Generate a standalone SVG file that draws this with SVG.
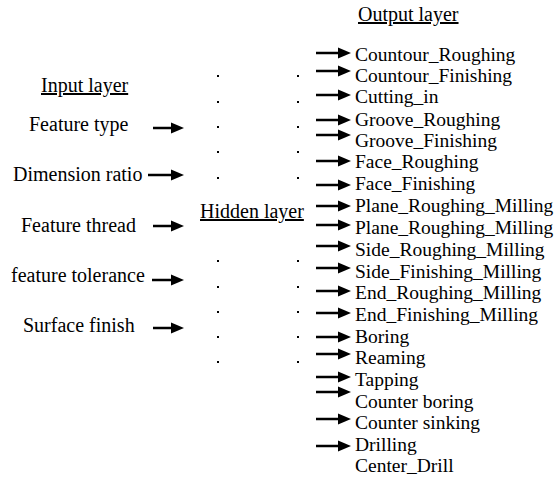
<svg xmlns="http://www.w3.org/2000/svg" width="556" height="477" viewBox="0 0 556 477">
<style>
text{font-family:'Liberation Serif','Times New Roman',serif;font-size:20px;fill:#000}
.o{font-size:19.5px}
.hd{text-decoration:underline}
.ln{stroke:#000;stroke-width:2.6;fill:none}
.dot{fill:#000}
</style>
<defs>
<path id="ah" d="M-13,-5.5 L0,0 L-13,5.5 Z" fill="#000"/>
</defs>
<rect width="556" height="477" fill="#fff"/>
<g id="input-layer">
<text x="41" y="92" class="hd">Input layer</text>
<g id="in-feature-type"><text x="29" y="131">Feature type</text></g>
<g id="in-dimension-ratio"><text x="13" y="181">Dimension ratio</text></g>
<g id="in-feature-thread"><text x="21" y="232">Feature thread</text></g>
<g id="in-feature-tolerance"><text x="11" y="282">feature tolerance</text></g>
<g id="in-surface-finish"><text x="23" y="332">Surface finish</text></g>
</g>
<g id="hidden-layer">
<text x="200" y="218" class="hd">Hidden layer</text>
<g id="hidden-dots">
<rect class="dot" x="217" y="75" width="2" height="2"/><rect class="dot" x="297" y="75" width="2" height="2"/>
<rect class="dot" x="217" y="101" width="2" height="2"/><rect class="dot" x="297" y="101" width="2" height="2"/>
<rect class="dot" x="217" y="126" width="2" height="2"/><rect class="dot" x="297" y="126" width="2" height="2"/>
<rect class="dot" x="217" y="151" width="2" height="2"/><rect class="dot" x="297" y="151" width="2" height="2"/>
<rect class="dot" x="217" y="177" width="2" height="2"/><rect class="dot" x="297" y="177" width="2" height="2"/>
<rect class="dot" x="217" y="260" width="2" height="2"/><rect class="dot" x="297" y="260" width="2" height="2"/>
<rect class="dot" x="217" y="286" width="2" height="2"/><rect class="dot" x="297" y="286" width="2" height="2"/>
<rect class="dot" x="217" y="311" width="2" height="2"/><rect class="dot" x="297" y="311" width="2" height="2"/>
<rect class="dot" x="217" y="336" width="2" height="2"/><rect class="dot" x="297" y="336" width="2" height="2"/>
<rect class="dot" x="217" y="361" width="2" height="2"/><rect class="dot" x="297" y="361" width="2" height="2"/>
</g>
</g>
<g id="output-layer">
<text x="358" y="21" class="hd">Output layer</text>
<g id="out-1"><text class="o" x="355" y="61">Countour_Roughing</text></g>
<g id="out-2"><text class="o" x="355" y="82">Countour_Finishing</text></g>
<g id="out-3"><text class="o" x="355" y="103">Cutting_in</text></g>
<g id="out-4"><text class="o" x="355" y="126">Groove_Roughing</text></g>
<g id="out-5"><text class="o" x="355" y="147">Groove_Finishing</text></g>
<g id="out-6"><text class="o" x="355" y="168">Face_Roughing</text></g>
<g id="out-7"><text class="o" x="355" y="190">Face_Finishing</text></g>
<g id="out-8"><text class="o" x="355" y="212">Plane_Roughing_Milling</text></g>
<g id="out-9"><text class="o" x="355" y="234">Plane_Roughing_Milling</text></g>
<g id="out-10"><text class="o" x="355" y="256">Side_Roughing_Milling</text></g>
<g id="out-11"><text class="o" x="355" y="278">Side_Finishing_Milling</text></g>
<g id="out-12"><text class="o" x="355" y="299">End_Roughing_Milling</text></g>
<g id="out-13"><text class="o" x="355" y="321">End_Finishing_Milling</text></g>
<g id="out-14"><text class="o" x="355" y="343">Boring</text></g>
<g id="out-15"><text class="o" x="355" y="364">Reaming</text></g>
<g id="out-16"><text class="o" x="355" y="386">Tapping</text></g>
<g id="out-17"><text class="o" x="355" y="408">Counter boring</text></g>
<g id="out-18"><text class="o" x="355" y="429">Counter sinking</text></g>
<g id="out-19"><text class="o" x="355" y="451">Drilling</text></g>
<g id="out-20"><text class="o" x="355" y="472">Center_Drill</text></g>
</g>
<g id="connectors">
<path class="ln" d="M153,128H174M148,175H174M153,226H174M152,280H174M153,328H174"/>
<use href="#ah" x="184" y="128"/><use href="#ah" x="184" y="175"/><use href="#ah" x="184" y="226"/><use href="#ah" x="184" y="280"/><use href="#ah" x="184" y="328"/>
<path class="ln" d="M316,53H341M316,71H341M316,95H341M316,120H341M316,135H341M316,161H341M316,185H341M316,206H341M316,225H341M316,246H341M316,268H341M316,291H341M316,313H341M316,337H341M316,354H341M316,377H341M316,392H341M316,419H341M316,446H341"/>
<use href="#ah" x="351" y="53"/><use href="#ah" x="351" y="71"/><use href="#ah" x="351" y="95"/><use href="#ah" x="351" y="120"/><use href="#ah" x="351" y="135"/><use href="#ah" x="351" y="161"/><use href="#ah" x="351" y="185"/><use href="#ah" x="351" y="206"/><use href="#ah" x="351" y="225"/><use href="#ah" x="351" y="246"/><use href="#ah" x="351" y="268"/><use href="#ah" x="351" y="291"/><use href="#ah" x="351" y="313"/><use href="#ah" x="351" y="337"/><use href="#ah" x="351" y="354"/><use href="#ah" x="351" y="377"/><use href="#ah" x="351" y="392"/><use href="#ah" x="351" y="419"/><use href="#ah" x="351" y="446"/>
</g>
</svg>
